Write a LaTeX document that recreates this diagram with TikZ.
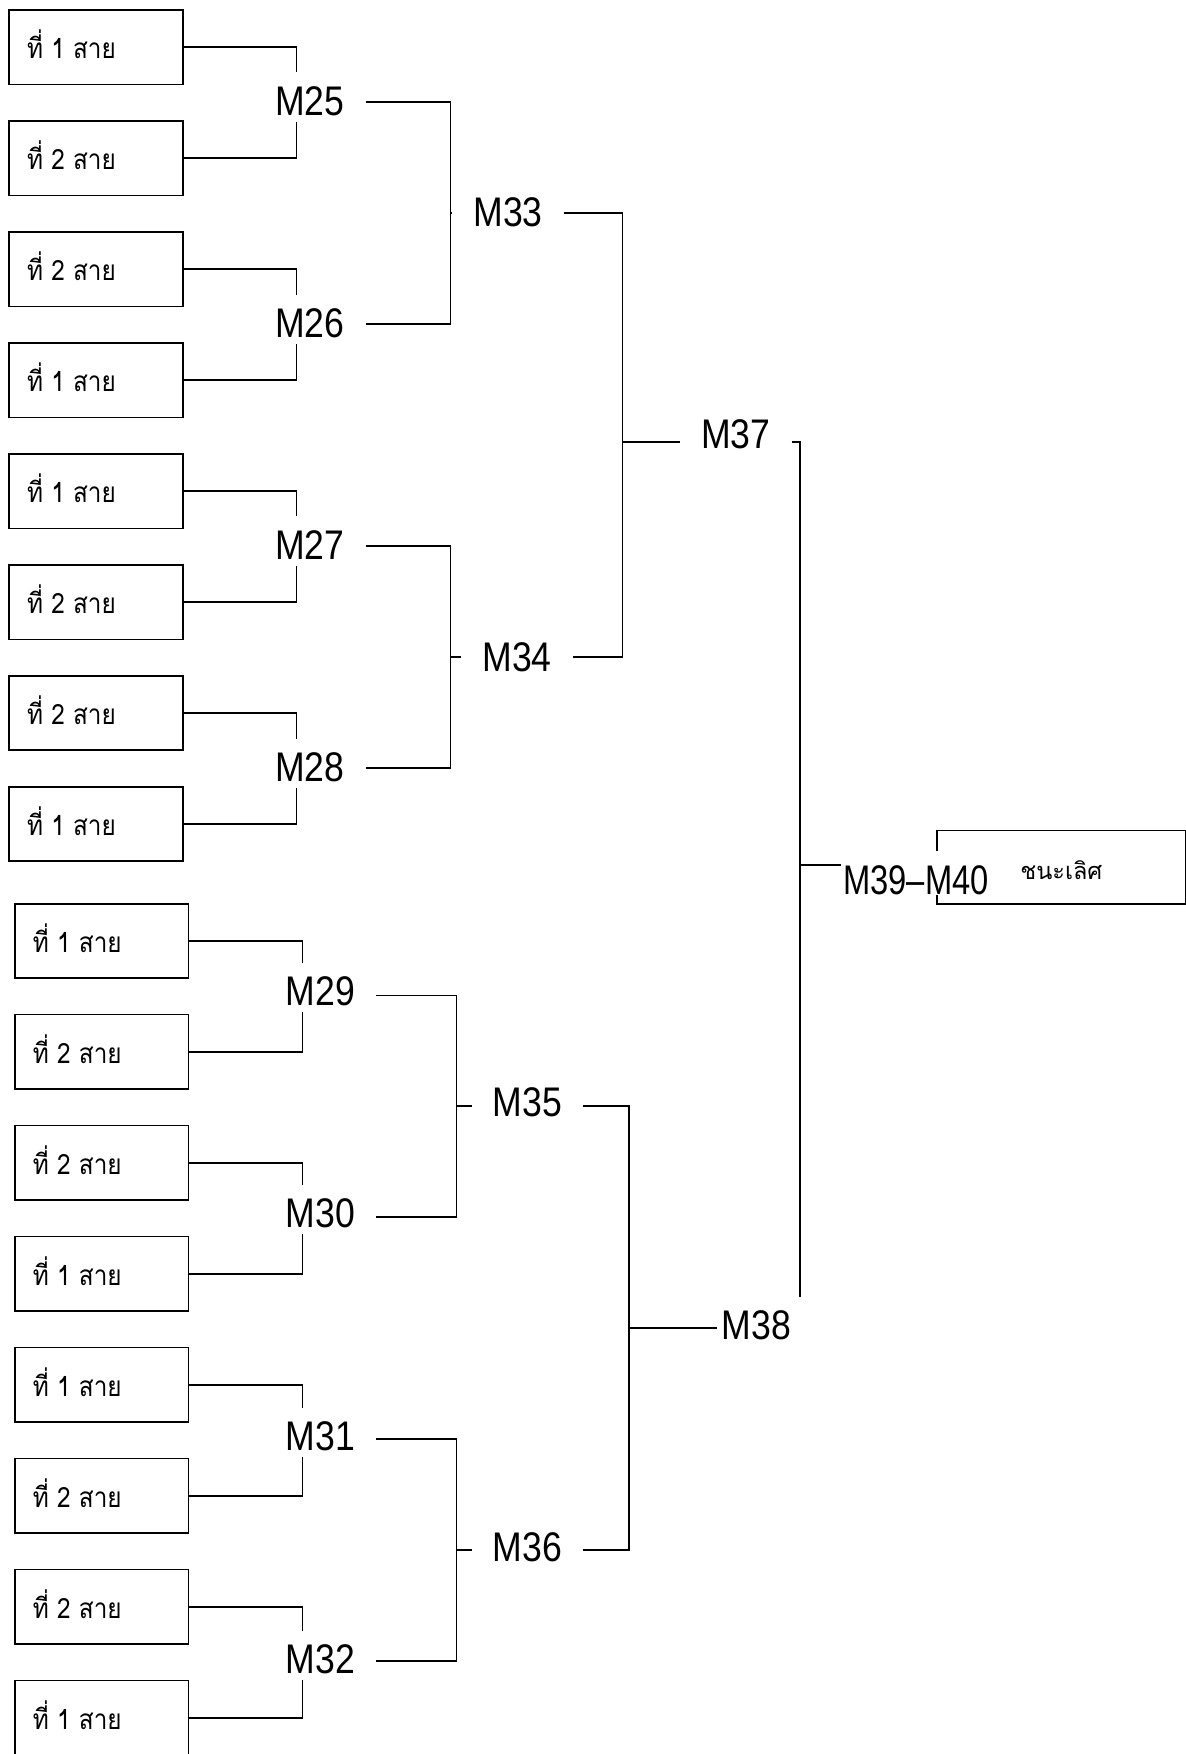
\documentclass[tikz,border=0pt]{standalone}
\usepackage{fontspec}
\newfontfamily\thaifont[Script=Thai]{Loma}
\newfontfamily\thaifontn[Script=Thai,FakeStretch=0.87]{Loma}
\newfontfamily\mfont[FakeStretch=0.86]{Liberation Sans}
\newfontfamily\mfontn[FakeStretch=0.79]{Liberation Sans}
\usetikzlibrary{backgrounds}
\newcommand{\seatlbl}[1]{\makebox[155pt][l]{\hspace{16pt}ที่ #1 สาย}}
\begin{document}
\begin{tikzpicture}[x=1pt,y=-1pt,
  wire/.style={line width=1.6pt, draw=black},
  tbox/.style={draw=black, line width=1.6pt, anchor=north west, inner sep=0pt,
    minimum width=155pt, minimum height=66.5pt, text height=43.5pt, text depth=23pt,
    font=\thaifontn\fontsize{25}{25}\selectfont},
  mlab/.style={fill=white, inner sep=0pt, minimum width=99.5pt,
    text height=38.3pt, text depth=5.8pt, anchor=base,
    font=\mfont\fontsize{37}{37}\selectfont},
  finbox/.style={draw=black, line width=1.6pt, anchor=north west, inner sep=0pt,
    minimum width=222pt, minimum height=65.3pt, text height=43.3pt, text depth=22pt,
    font=\thaifont\fontsize{21}{21}\selectfont}
]
\useasboundingbox (0,0) rectangle (1060,1568);
% top group boxes
\node[tbox] (b1) at (7.5,8.3) {\seatlbl{1}};
\node[tbox] (b2) at (7.5,107.5) {\seatlbl{2}};
\node[tbox] (b3) at (7.5,206.7) {\seatlbl{2}};
\node[tbox] (b4) at (7.5,305.9) {\seatlbl{1}};
\node[tbox] (b5) at (7.5,405.1) {\seatlbl{1}};
\node[tbox] (b6) at (7.5,504.3) {\seatlbl{2}};
\node[tbox] (b7) at (7.5,603.5) {\seatlbl{2}};
\node[tbox] (b8) at (7.5,702.7) {\seatlbl{1}};
% bottom group boxes
\node[tbox] (b9) at (12.7,807) {\seatlbl{1}};
\node[tbox] (b10) at (12.7,906.2) {\seatlbl{2}};
\node[tbox] (b11) at (12.7,1005.4) {\seatlbl{2}};
\node[tbox] (b12) at (12.7,1104.6) {\seatlbl{1}};
\node[tbox] (b13) at (12.7,1203.8) {\seatlbl{1}};
\node[tbox] (b14) at (12.7,1303) {\seatlbl{2}};
\node[tbox] (b15) at (12.7,1402.2) {\seatlbl{2}};
\node[tbox] (b16) at (12.7,1501.4) {\seatlbl{1}};
% junction coordinates
\coordinate (c25) at (265,91.15);
\coordinate (c26) at (265,289.55);
\coordinate (c27) at (265,487.95);
\coordinate (c28) at (265,686.35);
\coordinate (c29) at (270.5,889.85);
\coordinate (c30) at (270.5,1088.25);
\coordinate (c31) at (270.5,1286.65);
\coordinate (c32) at (270.5,1485.05);
\coordinate (c33) at (402.8,190.35);
\coordinate (c34) at (402.8,587.15);
\coordinate (c35) at (408,989.05);
\coordinate (c36) at (408,1385.85);
\coordinate (c37) at (556.5,395);
\coordinate (c38) at (562.5,1187.45);
\coordinate (c37r) at (715,395);
\coordinate (c38r) at (715,1187.45);
\coordinate (c39) at (715,773);
% match labels
\node[mlab] (m25) at (276.8,103) {M25};
\node[mlab] (m26) at (276.8,302) {M26};
\node[mlab] (m27) at (276.8,500) {M27};
\node[mlab] (m28) at (276.8,698.5) {M28};
\node[mlab] (m29) at (286.3,899) {M29};
\node[mlab] (m30) at (286.3,1097.6) {M30};
\node[mlab] (m31) at (286.3,1297) {M31};
\node[mlab] (m32) at (286.3,1496) {M32};
\node[mlab] (m33) at (454.25,202.6) {M33};
\node[mlab] (m34) at (462.3,600) {M34};
\node[mlab] (m35) at (471.5,998) {M35};
\node[mlab] (m36) at (471.5,1395.6) {M36};
\node[mlab] (m37) at (657.8,400.6) {M37};
\node[mlab, anchor=base west] (m38) at (641,1197.5) {\makebox[99.5pt][l]{\hspace{4pt}M38}};
% final box
\node[finbox] (fin) at (837,741.7) {ชนะเลิศ};
\node[mlab, minimum width=0pt, inner xsep=2pt, text height=39pt, text depth=0pt,
  anchor=base west, font=\mfontn\fontsize{37}{37}\selectfont] (m39) at (751.6,800) {M39–M40};
% connectors
\begin{pgfonlayer}{background}
\draw[wire] (b1.east) -| (c25) |- (b2.east);
\draw[wire] (b3.east) -| (c26) |- (b4.east);
\draw[wire] (b5.east) -| (c27) |- (b6.east);
\draw[wire] (b7.east) -| (c28) |- (b8.east);
\draw[wire] (b9.east) -| (c29) |- (b10.east);
\draw[wire] (b11.east) -| (c30) |- (b12.east);
\draw[wire] (b13.east) -| (c31) |- (b14.east);
\draw[wire] (b15.east) -| (c32) |- (b16.east);
\draw[wire] (m25.east |- c25) -| (c33) |- (m26.east |- c26);
\draw[wire] (c33) -- (m33.west |- c33);
\draw[wire] (m27.east |- c27) -| (c34) |- (m28.east |- c28);
\draw[wire] (c34) -- (m34.west |- c34);
\draw[wire] (m29.east |- c29) -| (c35) |- (m30.east |- c30);
\draw[wire] (c35) -- (m35.west |- c35);
\draw[wire] (m31.east |- c31) -| (c36) |- (m32.east |- c32);
\draw[wire] (c36) -- (m36.west |- c36);
\draw[wire] (m33.east |- c33) -| (c37) |- (m34.east |- c34);
\draw[wire] (c37) -- (m37.west |- c37);
\draw[wire] (m35.east |- c35) -| (c38) |- (m36.east |- c36);
\draw[wire] (c38) -- (m38.west |- c38);
\draw[wire] (m37.east |- c37) -- (c37r) -- (c38r);
\draw[wire] (c39) -- (fin.west |- c39);
\end{pgfonlayer}
\end{tikzpicture}
\end{document}
